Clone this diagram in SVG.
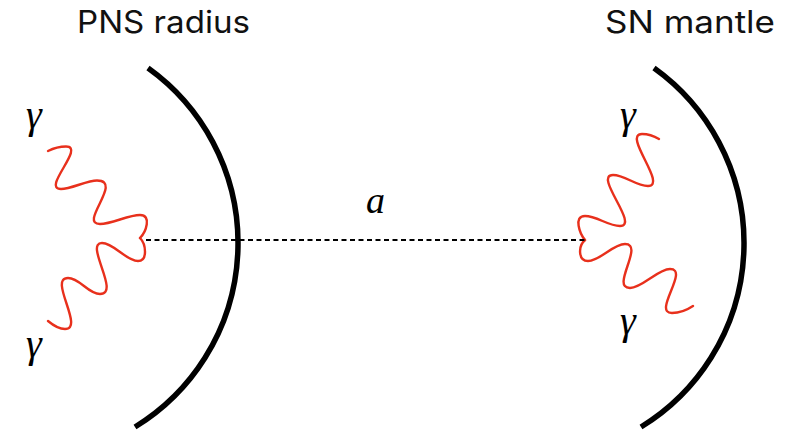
<svg xmlns="http://www.w3.org/2000/svg" width="790" height="432" viewBox="0 0 790 432">
<style>
.title{font-family:Inter,"Noto Sans","Liberation Sans",sans-serif;font-size:31px;fill:#111}
.sym{font-family:"Liberation Serif","DejaVu Serif",serif;font-style:italic;fill:#000}
.g{font-size:40px}
.arc{fill:none;stroke:#000;stroke-width:5.5}
.photon{fill:none;stroke:#e8301c;stroke-width:2.4;stroke-linejoin:round;stroke-linecap:round}
.axion{fill:none;stroke:#000;stroke-width:2;stroke-dasharray:5 3.5}
</style>
<rect width="790" height="432" fill="#fff"/>
<g id="pns">
<path class="arc" d="M148,68 A215.5,215.5 0 0 1 135,427"/>
<text class="title" x="77" y="33" textLength="173" lengthAdjust="spacingAndGlyphs">PNS radius</text>
</g>
<g id="mantle">
<path class="arc" d="M654,68 A215.5,215.5 0 0 1 641,427"/>
<text class="title" x="605" y="33" textLength="170" lengthAdjust="spacingAndGlyphs">SN mantle</text>
</g>
<g id="left-photons">
<path class="photon" d="M48,151 C54,148 60,146.5 66,146.5 C86,146.5 41,189 61,189 C71,189 87,180.5 97,180.5 C124,180.5 78,224 100,224 C112,224 128,215 140,215 C152,215 146,232 140,238"/>
<path class="photon" d="M48,321 C54,326 59,329 65,329 C85,329 48,278 68,278 C80,278 88,294 100,294 C121,294 84,243 102,243 C114,243 126,261 138,261 C148,261 146,244 140,238"/>
<text class="sym g" x="26" y="128">γ</text>
<text class="sym g" x="26" y="357">γ</text>
</g>
<g id="right-photons">
<path class="photon" d="M585,240 C580,234 573,216 585,216 C597,216 608,226 620,226 C640,226 593,175 613,175 C625,175 636,186 648,186 C668,186 622,134 642,134 C649,134 654,136 659,139"/>
<path class="photon" d="M585,240 C578,246 578,261 588,261 C600,261 613,244 625,244 C645,244 610,288 630,288 C642,288 658,269 670,269 C690,269 652,313 672,313 C680,313 687,310 693,306"/>
<text class="sym g" x="620" y="128">γ</text>
<text class="sym g" x="620" y="334">γ</text>
</g>
<g id="connectors">
<path class="axion" d="M146,240 H585"/>
<text class="sym" x="366" y="213" font-size="38">a</text>
</g>
</svg>
